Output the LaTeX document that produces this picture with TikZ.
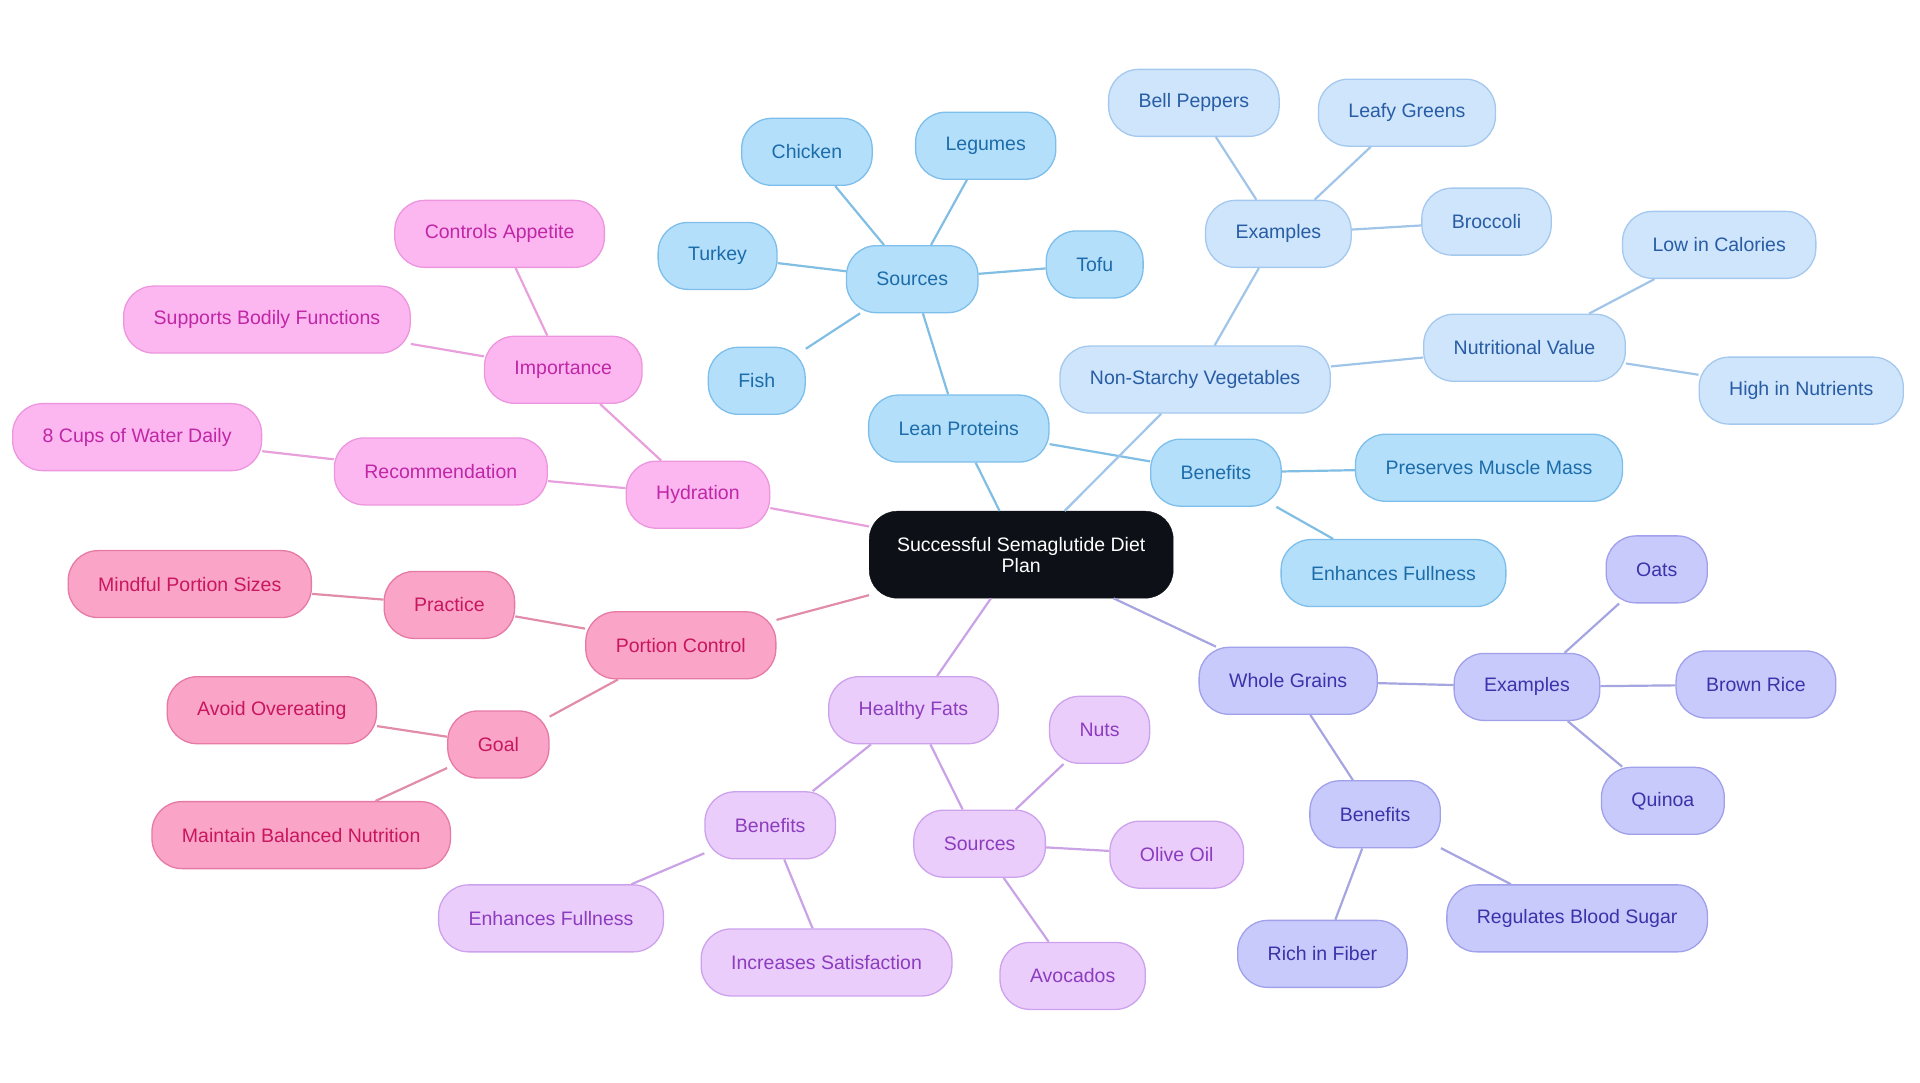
\documentclass[tikz,border=0pt]{standalone}
\usepackage{fontspec}
\setmainfont{Liberation Sans}
\definecolor{lpF}{RGB}{180,223,251}\definecolor{lpD}{RGB}{125,190,235}\definecolor{lpT}{RGB}{28,108,170}\definecolor{lpL}{RGB}{128,190,228}
\definecolor{nvF}{RGB}{206,229,251}\definecolor{nvD}{RGB}{165,200,238}\definecolor{nvT}{RGB}{40,92,165}\definecolor{nvL}{RGB}{160,197,232}
\definecolor{hyF}{RGB}{252,183,241}\definecolor{hyD}{RGB}{236,150,222}\definecolor{hyT}{RGB}{192,38,165}\definecolor{hyL}{RGB}{232,160,220}
\definecolor{pcF}{RGB}{250,164,200}\definecolor{pcD}{RGB}{230,122,165}\definecolor{pcT}{RGB}{200,22,95}\definecolor{pcL}{RGB}{224,140,170}
\definecolor{hfF}{RGB}{235,205,252}\definecolor{hfD}{RGB}{205,162,236}\definecolor{hfT}{RGB}{140,60,190}\definecolor{hfL}{RGB}{202,162,230}
\definecolor{wgF}{RGB}{200,202,251}\definecolor{wgD}{RGB}{160,160,235}\definecolor{wgT}{RGB}{60,50,170}\definecolor{wgL}{RGB}{165,165,225}
\definecolor{ctrF}{RGB}{13,17,23}
\tikzset{
  base/.style={rounded corners=30pt, minimum height=67pt, inner xsep=30pt, inner ysep=0pt, line width=1.3pt, font=\fontsize{19.5}{22}\selectfont},
  lp/.style={base, fill=lpF, draw=lpD, text=lpT},
  nv/.style={base, fill=nvF, draw=nvD, text=nvT},
  hy/.style={base, fill=hyF, draw=hyD, text=hyT},
  pc/.style={base, fill=pcF, draw=pcD, text=pcT},
  hf/.style={base, fill=hfF, draw=hfD, text=hfT},
  wg/.style={base, fill=wgF, draw=wgD, text=wgT},
  ctr/.style={rounded corners=28pt, minimum width=304pt, minimum height=87pt, fill=ctrF, draw=ctrF, text=white, align=center, font=\fontsize{19.5}{21}\selectfont},
  edge/.style={line width=2.2pt},
}
\begin{document}
\begin{tikzpicture}[x=1.2245pt, y=-1.2245pt]
\useasboundingbox (0,0) rectangle (1568,884.4);
% nodes
\node[ctr] (c) at (834,453) {Successful Semaglutide Diet\\Plan};
% lean proteins
\node[lp] (lp) at (783,350) {Lean Proteins};
\node[lp] (lps) at (745,228) {Sources};
\node[lp] (chk) at (659,124) {Chicken};
\node[lp] (leg) at (805,119) {Legumes};
\node[lp] (tur) at (586,209) {Turkey};
\node[lp] (tof) at (894,216) {Tofu};
\node[lp] (fis) at (618,311) {Fish};
\node[lp] (lpb) at (993,386) {Benefits};
\node[lp] (pmm) at (1216,382) {Preserves Muscle Mass};
\node[lp] (ef1) at (1138,468) {Enhances Fullness};
% non-starchy vegetables
\node[nv] (nv) at (976,310) {Non-Starchy Vegetables};
\node[nv] (nve) at (1044,191) {Examples};
\node[nv] (bel) at (975,84) {Bell Peppers};
\node[nv] (lea) at (1149,92) {Leafy Greens};
\node[nv] (bro) at (1214,181) {Broccoli};
\node[nv] (nvn) at (1245,284) {Nutritional Value};
\node[nv] (low) at (1404,200) {Low in Calories};
\node[nv] (hin) at (1471,319) {High in Nutrients};
% hydration
\node[hy] (hy) at (570,404) {Hydration};
\node[hy] (imp) at (460,302) {Importance};
\node[hy] (cap) at (408,191) {Controls Appetite};
\node[hy] (sbf) at (218,261) {Supports Bodily Functions};
\node[hy] (rec) at (360,385) {Recommendation};
\node[hy] (cup) at (112,357) {8 Cups of Water Daily};
% portion control
\node[pc] (pc) at (556,527) {Portion Control};
\node[pc] (pra) at (367,494) {Practice};
\node[pc] (mps) at (155,477) {Mindful Portion Sizes};
\node[pc] (goa) at (407,608) {Goal};
\node[pc] (avo) at (222,580) {Avoid Overeating};
\node[pc] (mbn) at (246,682) {Maintain Balanced Nutrition};
% healthy fats
\node[hf] (hf) at (746,580) {Healthy Fats};
\node[hf] (hfb) at (629,674) {Benefits};
\node[hf] (ef2) at (450,750) {Enhances Fullness};
\node[hf] (ins) at (675,786) {Increases Satisfaction};
\node[hf] (hfs) at (800,689) {Sources};
\node[hf] (nut) at (898,596) {Nuts};
\node[hf] (oli) at (961,698) {Olive Oil};
\node[hf] (avc) at (876,797) {Avocados};
% whole grains
\node[wg] (wg) at (1052,556) {Whole Grains};
\node[wg] (wge) at (1247,561) {Examples};
\node[wg] (oat) at (1353,465) {Oats};
\node[wg] (bri) at (1434,559) {Brown Rice};
\node[wg] (qui) at (1358,654) {Quinoa};
\node[wg] (wgb) at (1123,665) {Benefits};
\node[wg] (rif) at (1080,779) {Rich in Fiber};
\node[wg] (rbs) at (1288,750) {Regulates Blood Sugar};
% edges
\draw[edge, lpL] (c) -- (lp) (lp) -- (lps) (lp) -- (lpb)
  (lps) -- (chk) (lps) -- (leg) (lps) -- (tur) (lps) -- (tof) (lps) -- (fis)
  (lpb) -- (pmm) (lpb) -- (ef1);
\draw[edge, nvL] (c) -- (nv) (nv) -- (nve) (nv) -- (nvn)
  (nve) -- (bel) (nve) -- (lea) (nve) -- (bro)
  (nvn) -- (low) (nvn) -- (hin);
\draw[edge, hyL] (c) -- (hy) (hy) -- (imp) (hy) -- (rec)
  (imp) -- (cap) (imp) -- (sbf) (rec) -- (cup);
\draw[edge, pcL] (c) -- (pc) (pc) -- (pra) (pc) -- (goa)
  (pra) -- (mps) (goa) -- (avo) (goa) -- (mbn);
\draw[edge, hfL] (c) -- (hf) (hf) -- (hfb) (hf) -- (hfs)
  (hfb) -- (ef2) (hfb) -- (ins)
  (hfs) -- (nut) (hfs) -- (oli) (hfs) -- (avc);
\draw[edge, wgL] (c) -- (wg) (wg) -- (wge) (wg) -- (wgb)
  (wge) -- (oat) (wge) -- (bri) (wge) -- (qui)
  (wgb) -- (rif) (wgb) -- (rbs);
\end{tikzpicture}
\end{document}
